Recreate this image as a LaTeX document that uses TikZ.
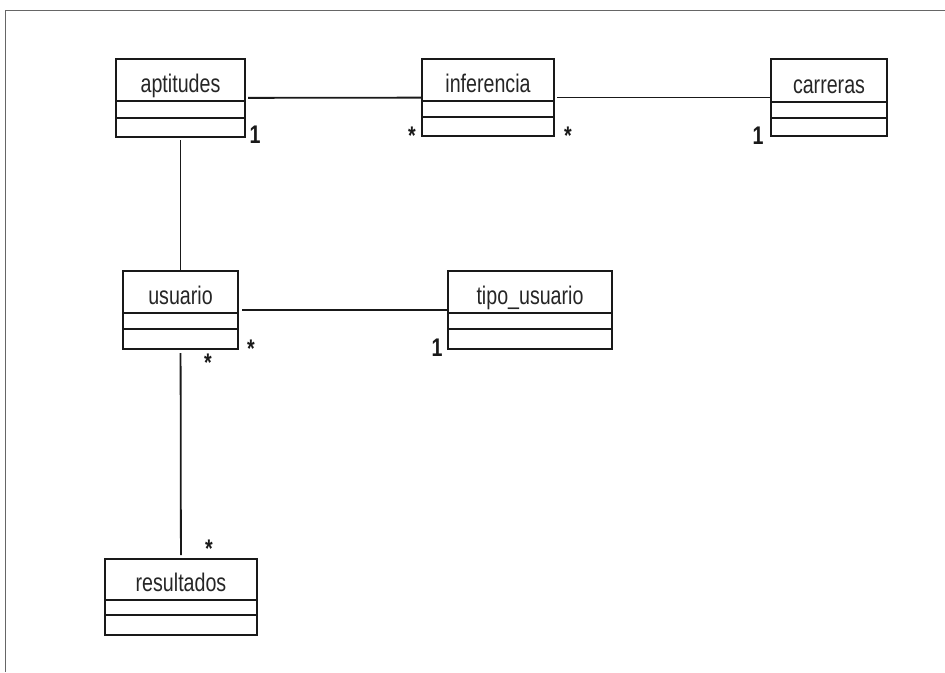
\documentclass[tikz,border=0pt]{standalone}
\usepackage{fontspec}
\setmainfont{Liberation Sans}
% narrow lettering used throughout the diagram
\newcommand\nar[1]{\scalebox{0.77}[1]{#1}}
% \umlclass{name}{left}{top}{right}{bottom}{sep1}{sep2}{title}
\newcommand\umlclass[8]{%
  \pgfmathsetmacro\clw{#4-#2}%
  \pgfmathsetmacro\clh{#5-#3}%
  \node[classbox, minimum width=\clw pt, minimum height=\clh pt] (#1)
    at ({(#2+#4)/2},{(#3+#5)/2}) {};
  \draw[compline] (#2,#6) -- (#4,#6);
  \draw[compline] (#2,#7) -- (#4,#7);
  \node[cname] (#1-title) at ({(#2+#4)/2},{#6-9}) {\nar{#8}};
}
\begin{document}
\begin{tikzpicture}[x=1pt,y=-1pt,
  classbox/.style={draw=black!90, line width=2.2pt, rectangle, inner sep=0pt, outer sep=0pt},
  compline/.style={draw=black!90, line width=2pt},
  assoc/.style={draw=black!90, line width=1.8pt},
  cname/.style={anchor=base, inner sep=0pt, text=black!85, font=\fontsize{25.5}{30}\selectfont},
  mult/.style={anchor=base, inner sep=0pt, text=black!90, font=\fontsize{25.5}{30}\selectfont},
  frameline/.style={draw=black!60, line width=1pt}]
\useasboundingbox (0,0) rectangle (945,672);

% outer frame
\draw[frameline] (5,672) -- (5,10) -- (945,10);

% classes
\umlclass{aptitudes}{116}{59}{245}{137}{101}{118}{aptitudes}
\umlclass{inferencia}{422}{59}{554}{136}{101}{117}{inferencia}
\umlclass{carreras}{771}{59}{887}{136}{102}{118}{carreras}
\umlclass{usuario}{123}{271}{238}{349}{313}{329}{usuario}
\umlclass{tipo}{448}{271}{612}{349}{313}{329}{tipo\_usuario}
\umlclass{resultados}{105}{559}{257}{635}{600}{615}{resultados}

% associations
\draw[assoc, shorten <=3pt] (aptitudes) -- (inferencia);
\draw[assoc, shorten <=3pt] (inferencia) -- (carreras);
\draw[assoc, shorten <=3pt] (aptitudes) -- (usuario);
\draw[assoc, shorten <=4pt] (usuario) -- (tipo);
\draw[assoc, shorten <=4pt, shorten >=4pt] (usuario) -- (resultados);

% multiplicities
\node[mult] (m1) at (255,143) {\nar{\textbf{1}}};
\node[mult] (m2) at (412,144) {\nar{\textbf{*}}};
\node[mult] (m3) at (568,144) {\nar{\textbf{*}}};
\node[mult] (m4) at (758,144) {\nar{\textbf{1}}};
\node[mult] (m5) at (251,357) {\nar{\textbf{*}}};
\node[mult] (m6) at (208,371) {\nar{\textbf{*}}};
\node[mult] (m7) at (437,356) {\nar{\textbf{1}}};
\node[mult] (m8) at (209,557) {\nar{\textbf{*}}};
\end{tikzpicture}
\end{document}
